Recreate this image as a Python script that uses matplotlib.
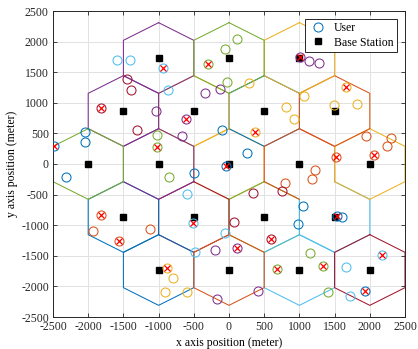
import numpy as np
import matplotlib
matplotlib.use('Agg')
import matplotlib.pyplot as plt
from matplotlib.lines import Line2D

plt.rcParams['font.family'] = ['Liberation Serif', 'DejaVu Serif']
plt.rcParams['axes.unicode_minus'] = False

ISD = 1000.0                 # inter-site distance (m)
R = ISD / np.sqrt(3)         # hexagon circumradius
ROW = ISD * np.sqrt(3) / 2   # vertical spacing between rows of cells

# base stations, listed in the order their cells are drawn
cell_x = [0, 500, 500, -500, -1500, -1000, 1000, 1500, 2000, 0,
          1000, 2000, 1500, 1000, -500, -1000, -1500, -1000, -2000, 0]
cell_row = [0, -1, 1, -1, -1, -2, -2, -1, -2, -2,
            0, 0, 1, 2, 1, 2, 1, 0, 0, 2]
cell_col = 'ygbrbbccrooyoyypppgg'
# cells whose outline is left open at one edge (cell index -> edge index)
cell_gap = {10: 3, 7: 0}

# users: position, colour of serving cell, and whether the user is in outage
user_x = [-1586, -1406, -937, -862, -1447, -1390, -1815, -1044, -1300, -2040,
          -2040, -2480, -1022, -1022, -672, -611, -335, -128, -57, 118,
          -303, -24, 284, -104, 369, 251, -38, 1010, 1143, 1280,
          1669, 1061, 815, 924, 1496, 1820, 1948, 2308, 2242, 2062,
          1518, 1220, 1181, 790, 748, 336, 1046, 975, 1541, 1602,
          1148, 1342, 1413, 1655, 2180, 1938, 1721, -499, -595, -852,
          -507, 71, -57, 594, -486, -199, 113, 682, -880, -798,
          -902, -590, -175, 407, -2322, -1825, -1934, -1557, -1117]
user_y = [1699, 1699, 1563, 1215, 1383, 1206, 922, 874, 556, 525,
          359, 302, 474, 283, 460, 730, 1162, 1222, 1876, 2050,
          1642, 1335, 1329, 556, 528, 185, -25, 1754, 1677, 1648,
          1261, 1108, 934, 732, 964, 975, 460, 425, 294, 147,
          119, -95, -253, -316, -446, -482, -692, -986, -852, -874,
          -1457, -1670, -2089, -1690, -1495, -2067, -2157, -150, -492, -218,
          -972, -940, -1122, -1228, -1430, -1408, -1370, -1718, -1697, -1860,
          -2097, -2097, -2208, -2067, -210, -839, -1092, -1258, -1057]
user_col = ('ccccrrrprb' 'bbggppppgg' 'ggybybbppp' 'yyyyyyoooo'
            'oooorrbbbb' 'gggccbcbcg' 'crcrcppgyy' 'yyppbooo' 'o')
user_hit = [0, 0, 1, 0, 0, 0, 1, 0, 0, 0,
            0, 1, 0, 1, 0, 1, 0, 0, 0, 0,
            1, 0, 0, 0, 1, 0, 1, 1, 0, 0,
            1, 0, 0, 0, 0, 0, 0, 0, 0, 1,
            1, 0, 0, 0, 0, 0, 0, 0, 1, 0,
            0, 1, 0, 0, 1, 1, 0, 0, 0, 0,
            1, 0, 0, 1, 0, 0, 1, 1, 1, 0,
            0, 0, 0, 0, 0, 1, 0, 1, 0]

mat = {'b': (0, 0.447, 0.741), 'o': (0.85, 0.325, 0.098),
       'y': (0.929, 0.694, 0.125), 'p': (0.494, 0.184, 0.556),
       'g': (0.466, 0.674, 0.188), 'c': (0.301, 0.745, 0.933),
       'r': (0.635, 0.078, 0.184)}

fig = plt.figure(figsize=(4.18, 3.49), dpi=100)
ax = fig.add_axes([53 / 418, 1 - 317 / 349, 352 / 418, 306 / 349])

ang = np.deg2rad(90 + 60 * np.arange(6))
for i, (cx, rw, c) in enumerate(zip(cell_x, cell_row, cell_col)):
    cy = rw * ROW
    vx = cx + R * np.cos(ang)
    vy = cy + R * np.sin(ang)
    if i in cell_gap:
        idx = [(cell_gap[i] + 1 + k) % 6 for k in range(6)]
    else:
        idx = list(range(6)) + [0]
    ax.plot(vx[idx], vy[idx], color=mat[c], lw=0.75, zorder=2)

bs_y = [rw * ROW for rw in cell_row]
ax.plot(cell_x, bs_y, 's', color='k', ms=5, zorder=3)

for x, y, c in zip(user_x, user_y, user_col):
    ax.plot(x, y, 'o', mfc='none', mec=mat[c], ms=6.5, mew=0.75, zorder=4)

hx = [x for x, h in zip(user_x, user_hit) if h]
hy = [y for y, h in zip(user_y, user_hit) if h]
ax.plot(hx, hy, 'x', color='red', ms=4, mew=0.9, zorder=5)

ax.set_xlim(-2500, 2500)
ax.set_ylim(-2500, 2500)
ticks = np.arange(-2500, 2501, 500)
ax.set_xticks(ticks)
ax.set_yticks(ticks)
ax.tick_params(direction='in', top=True, right=True, length=3, width=0.6,
               labelsize=8.5, colors='#262626', pad=3)
ax.grid(True, color='#e2e2e2', lw=0.7)
ax.set_axisbelow(True)
for s in ax.spines.values():
    s.set_color('#262626')
    s.set_linewidth(0.7)

ax.set_xlabel('x axis position (meter)', fontsize=8.5, labelpad=3)
ax.set_ylabel('y axis position (meter)', fontsize=8.5, labelpad=2)

handles = [Line2D([], [], ls='none', marker='o', mfc='none', mec=mat['b'], ms=6.5, mew=0.75),
           Line2D([], [], ls='none', marker='s', color='k', ms=5)]
leg = ax.legend(handles, ['User', 'Base Station'], loc='upper right', fontsize=8.5,
                fancybox=False, framealpha=1, edgecolor='#262626', borderpad=0.3,
                labelspacing=0.2, handlelength=1.6, handletextpad=0.6, borderaxespad=0.65)
leg.get_frame().set_linewidth(0.7)

fig.savefig('out.png', dpi=100)
